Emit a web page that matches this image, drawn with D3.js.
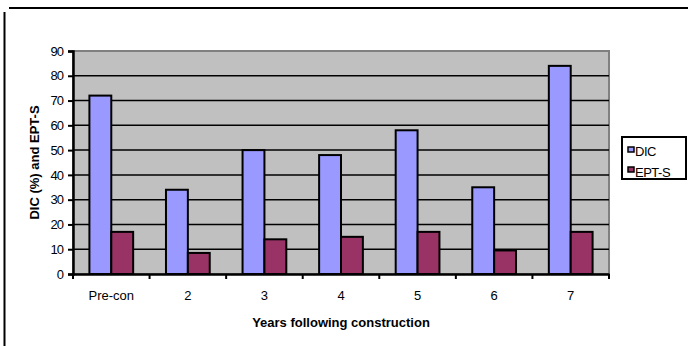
<!DOCTYPE html>
<html>
<head>
<meta charset="utf-8">
<script src="https://cdn.jsdelivr.net/npm/d3@7"></script>
<style>
  body { margin: 0; background: #fff; }
  svg { display: block; font-family: "Liberation Sans", Arial, sans-serif; }
</style>
</head>
<body>
<div id="canvas"></div>
<script>
"use strict"

/* Chart data */
let categories = ["Pre-con", "2", "3", "4", "5", "6", "7"];
let seriesNames = ["DIC", "EPT-S"];
let dicValues = [72, 34, 50, 48, 58, 35, 84];
let eptValues = [17, 8.5, 14, 15, 17, 9.5, 17];
let yTicks = [0, 10, 20, 30, 40, 50, 60, 70, 80, 90];

let colors = ["#9999ff", "#993366"];

/* Drawing config */
let svgWidth = 688;
let svgHeight = 346;
let plotLeft = 73, plotRight = 609, plotTop = 51, plotBottom = 274;

let svg = d3.select("#canvas")
    .append("svg")
    .attr("width", svgWidth)
    .attr("height", svgHeight);

// chart area border (clipped at top and left)
svg.append("line")
    .attr("x1", 9).attr("x2", svgWidth)
    .attr("y1", 8).attr("y2", 8)
    .attr("stroke", "#000").attr("stroke-width", 2);
svg.append("line")
    .attr("x1", 4.5).attr("x2", 4.5)
    .attr("y1", 12).attr("y2", svgHeight)
    .attr("stroke", "#000").attr("stroke-width", 2);

/* Scales */
let xScale = d3.scaleBand()
    .domain(categories)
    .range([plotLeft, plotRight]);

let barW = xScale.bandwidth() / 3.5;

let yScale = d3.scaleLinear()
    .domain([0, 90])
    .range([plotBottom, plotTop]);

// plot background
svg.append("rect")
    .attr("x", plotLeft).attr("y", plotTop)
    .attr("width", plotRight - plotLeft)
    .attr("height", plotBottom - plotTop)
    .attr("fill", "#c0c0c0")
    .attr("stroke", "#808080")
    .attr("stroke-width", 2);

// gridlines
svg.selectAll(".grid")
    .data(yTicks.filter(d => d > 0 && d < 90))
    .join("line")
    .attr("x1", plotLeft).attr("x2", plotRight)
    .attr("y1", d => yScale(d)).attr("y2", d => yScale(d))
    .attr("stroke", "#000").attr("stroke-width", 1.5);

/* Bars */
let seriesValues = [dicValues, eptValues];
seriesValues.forEach(function (values, s) {
    svg.selectAll(".bar" + s)
        .data(values)
        .join("rect")
        .attr("x", (d, i) => xScale(categories[i]) + xScale.bandwidth() / 2 - barW + s * barW)
        .attr("y", d => yScale(d))
        .attr("width", barW)
        .attr("height", d => plotBottom - yScale(d))
        .attr("fill", colors[s])
        .attr("stroke", "#000")
        .attr("stroke-width", 2);
});

/* Axes */
let yAxis = svg.append("g")
    .attr("transform", "translate(" + plotLeft + ",0)")
    .call(d3.axisLeft(yScale).tickValues(yTicks).tickSize(5).tickPadding(5));
yAxis.select(".domain").attr("stroke-width", 2.5);
yAxis.selectAll(".tick line").attr("stroke-width", 2);
yAxis.selectAll("text")
    .attr("font-size", 13)
    .attr("letter-spacing", -1)
    .attr("font-family", "Liberation Sans, Arial, sans-serif")
    .attr("fill", "#000");

let xAxis = svg.append("g")
    .attr("transform", "translate(0," + plotBottom + ")")
    .call(d3.axisBottom(xScale).tickSize(0).tickPadding(17));
xAxis.select(".domain").attr("stroke-width", 2.5);
xAxis.selectAll("text")
    .attr("font-size", 13)
    .attr("font-family", "Liberation Sans, Arial, sans-serif")
    .attr("fill", "#000");

// x ticks at category boundaries
let boundaries = categories.map(c => xScale(c)).concat([plotRight]);
svg.selectAll(".xtick")
    .data(boundaries)
    .join("line")
    .attr("x1", d => d).attr("x2", d => d)
    .attr("y1", plotBottom).attr("y2", plotBottom + 5)
    .attr("stroke", "#000").attr("stroke-width", 2);

/* Axis titles */
svg.append("text")
    .attr("x", (plotLeft + plotRight) / 2)
    .attr("y", 327)
    .attr("text-anchor", "middle")
    .attr("font-size", 13)
    .attr("font-weight", "bold")
    .text("Years following construction");

svg.append("text")
    .attr("transform", "translate(39," + ((plotTop + plotBottom) / 2) + ") rotate(-90)")
    .attr("text-anchor", "middle")
    .attr("font-size", 13)
    .attr("font-weight", "bold")
    .text("DIC (%) and EPT-S");

/* Legend */
let legendX = 622, legendY = 137;
svg.append("rect")
    .attr("x", legendX).attr("y", legendY)
    .attr("width", 64).attr("height", 42)
    .attr("fill", "#fff")
    .attr("stroke", "#000")
    .attr("stroke-width", 2);

seriesNames.forEach(function (name, i) {
    svg.append("rect")
        .attr("x", legendX + 6)
        .attr("y", legendY + 10 + i * 20)
        .attr("width", 6).attr("height", 5)
        .attr("fill", colors[i])
        .attr("stroke", "#000")
        .attr("stroke-width", 1.5);
    svg.append("text")
        .attr("x", legendX + 13)
        .attr("y", legendY + 19 + i * 21)
        .attr("font-size", 13)
        .attr("letter-spacing", -0.5)
        .text(name);
});
</script>
</body>
</html>
